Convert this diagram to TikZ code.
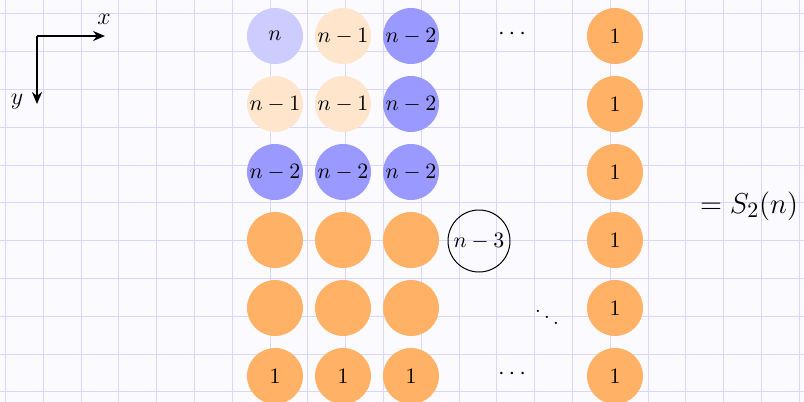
\documentclass[tikz,border=0pt]{standalone}
\usetikzlibrary{arrows.meta}
\definecolor{bgcol}{RGB}{250,250,255}
\definecolor{gridcol}{RGB}{214,214,255}
\tikzset{
  ball/.style={circle, minimum size=28pt, inner sep=0pt, font=\fontsize{11}{14}\selectfont},
  lb/.style={ball, fill=blue!20},
  pe/.style={ball, fill=orange!20},
  mb/.style={ball, fill=blue!40},
  og/.style={ball, fill=orange!60},
  ring/.style={circle, draw=black, line width=0.5pt, minimum size=31pt, inner sep=0pt, font=\fontsize{11}{14}\selectfont},
  lbl/.style={inner sep=0pt, font=\fontsize{11.5}{14}\selectfont},
  gridline/.style={gridcol, line width=0.7pt},
  axis/.style={line width=1pt, -{Stealth[length=6pt,width=5pt]}}
}
\begin{document}
\begin{tikzpicture}[x=0.5pt,y=-0.5pt]
\useasboundingbox (0,0) rectangle (804,402);
\fill[bgcol] (0,0) rectangle (804,402);
\foreach \k in {0,...,21} {
  \pgfmathsetmacro{\gx}{round(5+37.8*\k)+0.5}
  \draw[gridline] (\gx,0) -- (\gx,402);
}
\foreach \k in {0,...,10} {
  \pgfmathsetmacro{\gy}{round(13.3+37.8*\k)+0.5}
  \draw[gridline] (0,\gy) -- (804,\gy);
}
% axes
\coordinate (O) at (37,36);
\coordinate (X) at (105,36);
\coordinate (Y) at (37,104);
\draw[axis] (O) -- (X);
\draw[axis] (O) -- (Y);
\node[lbl, font=\fontsize{13}{15}\selectfont] (xl) at (104,19) {$x$};
\node[lbl, font=\fontsize{13}{15}\selectfont] (yl) at (17,102) {$y$};
% row 1
\node[lb] (a11) at (275,36) {$n$};
\node[pe] (a12) at (343,36) {$n-1$};
\node[mb] (a13) at (411,36) {$n-2$};
\node[lbl] (d1) at (512,34) {$\cdots$};
\node[og] (a16) at (615,36) {$1$};
% row 2
\node[pe] (a21) at (275,104) {$n-1$};
\node[pe] (a22) at (343,104) {$n-1$};
\node[mb] (a23) at (411,104) {$n-2$};
\node[og] (a26) at (615,104) {$1$};
% row 3
\node[mb] (a31) at (275,172) {$n-2$};
\node[mb] (a32) at (343,172) {$n-2$};
\node[mb] (a33) at (411,172) {$n-2$};
\node[og] (a36) at (615,172) {$1$};
% row 4
\node[og] (a41) at (275,240) {};
\node[og] (a42) at (343,240) {};
\node[og] (a43) at (411,240) {};
\node[ring] (a44) at (479,241) {$n-3$};
\node[og] (a46) at (615,240) {$1$};
% row 5
\node[og] (a51) at (275,308) {};
\node[og] (a52) at (343,308) {};
\node[og] (a53) at (411,308) {};
\node[lbl] (d5) at (547,311) {$\ddots$};
\node[og] (a56) at (615,308) {$1$};
% row 6
\node[og] (a61) at (275,376) {$1$};
\node[og] (a62) at (343,376) {$1$};
\node[og] (a63) at (411,376) {$1$};
\node[lbl] (d6) at (512,374) {$\cdots$};
\node[og] (a66) at (615,376) {$1$};
% result
\node[lbl, font=\fontsize{15.5}{18}\selectfont] (res) at (749,206) {$=S_2(n)$};
\end{tikzpicture}
\end{document}
